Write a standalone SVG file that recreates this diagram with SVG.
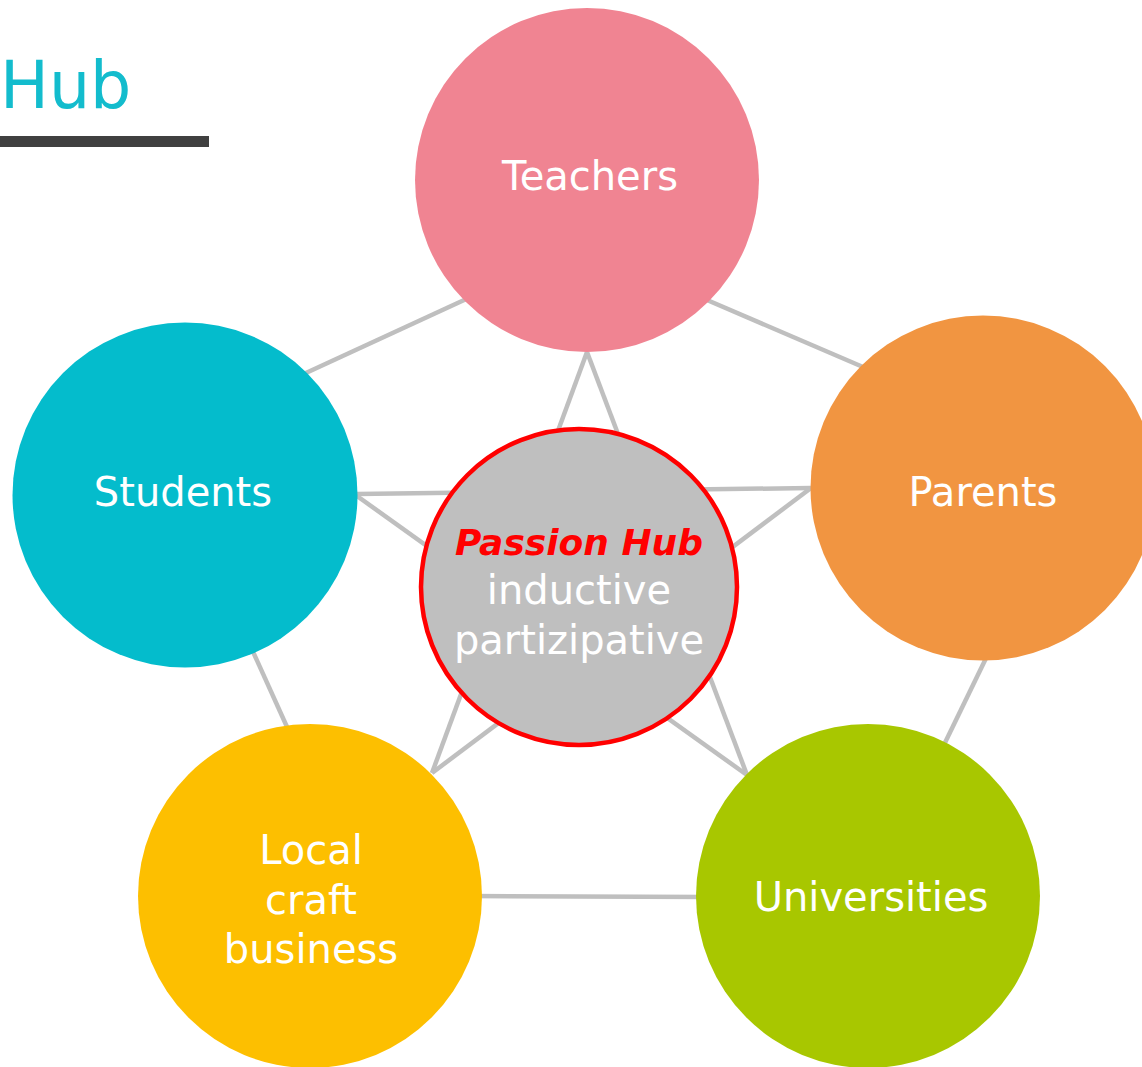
<svg xmlns="http://www.w3.org/2000/svg" width="1142" height="1067" viewBox="0 0 1142 1067">
<style>
.lbl{font-family:"DejaVu Sans",sans-serif;font-size:40px;fill:#ffffff;text-anchor:middle}
.conn line{stroke:#BFBFBF;stroke-width:4.5;fill:none}
</style>
<rect width="1142" height="1067" fill="#ffffff"/>
<g id="title">
<text x="0" y="108" font-family="DejaVu Sans, sans-serif" font-size="65" fill="#13BCCD">Hub</text>
<rect x="0" y="136" width="209" height="11" fill="#404040"/>
</g>
<g id="connectors" class="conn">
<line x1="475" y1="295" x2="295" y2="378"/>
<line x1="700" y1="297" x2="870" y2="370"/>
<line x1="250" y1="645" x2="292" y2="738"/>
<line x1="990" y1="650" x2="940" y2="753"/>
<line x1="470" y1="896" x2="710" y2="897"/>
<line x1="587" y1="352" x2="432" y2="773"/>
<line x1="587" y1="352" x2="747" y2="775"/>
<line x1="357" y1="494" x2="811" y2="488"/>
<line x1="357" y1="496" x2="747" y2="775"/>
<line x1="811" y1="488" x2="432" y2="773"/>
</g>
<g id="teachers">
<circle cx="587" cy="180" r="172" fill="#F08492"/>
<text class="lbl" x="590" y="190">Teachers</text>
</g>
<g id="students">
<circle cx="185" cy="495" r="172.5" fill="#04BCCC"/>
<text class="lbl" x="183" y="506">Students</text>
</g>
<g id="parents">
<circle cx="983" cy="488" r="172.5" fill="#F19541"/>
<text class="lbl" x="983" y="506">Parents</text>
</g>
<g id="local">
<circle cx="310" cy="896" r="172" fill="#FDBF00"/>
<text class="lbl" x="311" y="864">Local</text>
<text class="lbl" x="311" y="914">craft</text>
<text class="lbl" x="311" y="963">business</text>
</g>
<g id="universities">
<circle cx="868" cy="896" r="172" fill="#A8C700"/>
<text class="lbl" x="871" y="911">Universities</text>
</g>
<g id="hub">
<circle cx="579" cy="587" r="158" fill="#BFBFBF" stroke="#FF0000" stroke-width="4.5"/>
<text x="579" y="555" font-family="DejaVu Sans, sans-serif" font-size="36" font-weight="bold" font-style="italic" fill="#FF0000" text-anchor="middle">Passion Hub</text>
<text class="lbl" x="579" y="604">inductive</text>
<text class="lbl" x="579" y="654">partizipative</text>
</g>
</svg>
